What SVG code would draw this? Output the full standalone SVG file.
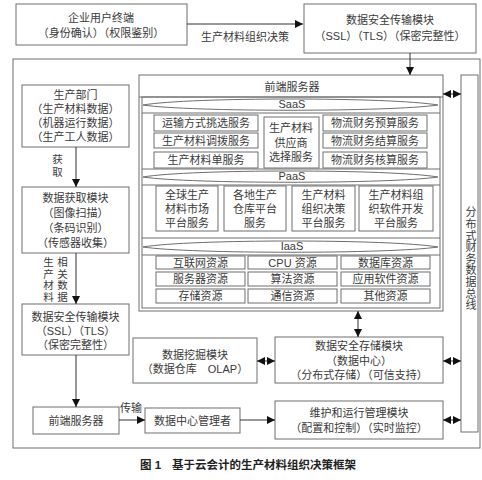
<svg xmlns="http://www.w3.org/2000/svg" width="482" height="480" viewBox="0 0 482 480">
<defs>
<style>
.b{fill:#fff;stroke:#6e6e6e;stroke-width:1}
.n{fill:none;stroke:#6e6e6e;stroke-width:1}
.t{font-family:"Liberation Sans","Noto Sans CJK SC",sans-serif;font-size:11px;fill:#3a3a3a;text-anchor:middle;dominant-baseline:central}
.v{font-family:"Liberation Sans","Noto Sans CJK SC",sans-serif;font-size:10.5px;fill:#3a3a3a;text-anchor:middle;writing-mode:vertical-rl}
.c{stroke:#333;stroke-width:1;fill:none}
.cap{font-family:"Liberation Sans","Noto Sans CJK SC",sans-serif;font-size:11.5px;font-weight:bold;fill:#222;dominant-baseline:central}
</style>
<marker id="ah" viewBox="0 0 8 8" refX="8" refY="4" markerWidth="8" markerHeight="8" markerUnits="userSpaceOnUse" orient="auto">
<path d="M0,0 L8,4 L0,8 Z" fill="#111"/>
</marker>
<marker id="as" viewBox="0 0 8 8" refX="0" refY="4" markerWidth="8" markerHeight="8" markerUnits="userSpaceOnUse" orient="auto">
<path d="M8,0 L0,4 L8,8 Z" fill="#111"/>
</marker>
</defs>
<rect width="482" height="480" fill="#fff"/>

<g id="outer"><rect class="n" x="13" y="59" width="467" height="389"/></g>

<g id="user-terminal">
<rect class="b" x="16" y="4" width="171" height="41"/>
<text class="t"><tspan x="101" y="18">企业用户终端</tspan><tspan x="101" y="33">（身份确认）（权限鉴别）</tspan></text>
</g>

<g id="secure-trans-top">
<rect class="b" x="304" y="4" width="172" height="49"/>
<text class="t"><tspan x="390" y="20">数据安全传输模块</tspan><tspan x="390" y="36">（SSL）（TLS）（保密完整性）</tspan></text>
</g>

<g id="frontend-cloud">
<rect class="b" x="139" y="75" width="304" height="236"/>
<text class="t" x="292" y="87">前端服务器</text>
<line class="n" x1="139" y1="97" x2="443" y2="97"/>
<rect class="n" x="142" y="97" width="298" height="211"/>
</g>

<g id="saas">
<line class="n" x1="142" y1="113" x2="440" y2="113"/>
<path class="n" d="M143,105 C190,97 390,97 438,105 C390,112 190,112 143,105 Z"/>
<text class="t" x="292" y="104">SaaS</text>
<g id="saas-1"><rect class="b" x="154" y="115" width="104" height="16"/><text class="t" x="206" y="123">运输方式挑选服务</text></g>
<g id="saas-2"><rect class="b" x="154" y="133" width="104" height="15"/><text class="t" x="206" y="140.5">生产材料调拨服务</text></g>
<g id="saas-3"><rect class="b" x="154" y="152" width="104" height="16"/><text class="t" x="206" y="160">生产材料单服务</text></g>
<g id="saas-4"><rect class="b" x="264" y="117" width="55" height="51"/>
<text class="t"><tspan x="291" y="128">生产材料</tspan><tspan x="291" y="143">供应商</tspan><tspan x="291" y="157">选择服务</tspan></text></g>
<g id="saas-5"><rect class="b" x="323" y="115" width="104" height="16"/><text class="t" x="375" y="123">物流财务预算服务</text></g>
<g id="saas-6"><rect class="b" x="323" y="133" width="104" height="15"/><text class="t" x="375" y="140.5">物流财务结算服务</text></g>
<g id="saas-7"><rect class="b" x="323" y="152" width="104" height="16"/><text class="t" x="375" y="160">物流财务核算服务</text></g>
</g>

<g id="paas">
<line class="n" x1="142" y1="169" x2="440" y2="169"/>
<line class="n" x1="142" y1="185" x2="440" y2="185"/>
<path class="n" d="M143,177 C190,169 390,169 438,177 C390,184 190,184 143,177 Z"/>
<text class="t" x="292" y="176">PaaS</text>
<g id="paas-1"><rect class="b" x="156" y="186" width="62" height="45"/>
<text class="t"><tspan x="187" y="195">全球生产</tspan><tspan x="187" y="209">材料市场</tspan><tspan x="187" y="223">平台服务</tspan></text></g>
<g id="paas-2"><rect class="b" x="224" y="186" width="62" height="45"/>
<text class="t"><tspan x="255" y="195">各地生产</tspan><tspan x="255" y="209">仓库平台</tspan><tspan x="255" y="223">服务</tspan></text></g>
<g id="paas-3"><rect class="b" x="292" y="186" width="63" height="45"/>
<text class="t"><tspan x="323.5" y="195">生产材料</tspan><tspan x="323.5" y="209">组织决策</tspan><tspan x="323.5" y="223">平台服务</tspan></text></g>
<g id="paas-4"><rect class="b" x="359" y="186" width="74" height="45"/>
<text class="t"><tspan x="396" y="195">生产材料组</tspan><tspan x="396" y="209">织软件开发</tspan><tspan x="396" y="223">平台服务</tspan></text></g>
</g>

<g id="iaas">
<line class="n" x1="142" y1="238" x2="440" y2="238"/>
<line class="n" x1="142" y1="255" x2="440" y2="255"/>
<path class="n" d="M143,247 C190,239 390,239 438,247 C390,254 190,254 143,247 Z"/>
<text class="t" x="292" y="246">IaaS</text>
<g id="iaas-1"><rect class="b" x="156" y="256" width="89" height="13"/><text class="t" x="200.5" y="262.5">互联网资源</text></g>
<g id="iaas-2"><rect class="b" x="248" y="256" width="89" height="13"/><text class="t" x="292.5" y="262.5">CPU 资源</text></g>
<g id="iaas-3"><rect class="b" x="341" y="256" width="89" height="13"/><text class="t" x="385.5" y="262.5">数据库资源</text></g>
<g id="iaas-4"><rect class="b" x="156" y="272" width="89" height="14"/><text class="t" x="200.5" y="279">服务器资源</text></g>
<g id="iaas-5"><rect class="b" x="248" y="272" width="89" height="14"/><text class="t" x="292.5" y="279">算法资源</text></g>
<g id="iaas-6"><rect class="b" x="341" y="272" width="89" height="14"/><text class="t" x="385.5" y="279">应用软件资源</text></g>
<g id="iaas-7"><rect class="b" x="156" y="289" width="89" height="14"/><text class="t" x="200.5" y="296">存储资源</text></g>
<g id="iaas-8"><rect class="b" x="248" y="289" width="89" height="14"/><text class="t" x="292.5" y="296">通信资源</text></g>
<g id="iaas-9"><rect class="b" x="341" y="289" width="89" height="14"/><text class="t" x="385.5" y="296">其他资源</text></g>
</g>

<g id="bus">
<rect class="b" x="461" y="75" width="17" height="357"/>
<text class="v" x="470" y="259" style="font-size:11px;letter-spacing:0.6px">分布式财务数据总线</text>
</g>

<g id="production-dept">
<rect class="b" x="22" y="85" width="107" height="62"/>
<text class="t"><tspan x="75.5" y="95">生产部门</tspan><tspan x="75.5" y="109">（生产材料数据）</tspan><tspan x="75.5" y="123">（机器运行数据）</tspan><tspan x="75.5" y="137">（生产工人数据）</tspan></text>
</g>

<g id="data-acquisition">
<rect class="b" x="22" y="187" width="107" height="66"/>
<text class="t"><tspan x="75.5" y="198">数据获取模块</tspan><tspan x="75.5" y="213">（图像扫描）</tspan><tspan x="75.5" y="228">（条码识别）</tspan><tspan x="75.5" y="243">（传感器收集）</tspan></text>
</g>

<g id="secure-trans-left">
<rect class="b" x="22" y="304" width="107" height="51"/>
<text class="t"><tspan x="75.5" y="317">数据安全传输模块</tspan><tspan x="75.5" y="331">（SSL）（TLS）</tspan><tspan x="75.5" y="345">（保密完整性）</tspan></text>
</g>

<g id="frontend-bottom">
<rect class="b" x="33" y="407" width="86" height="27"/>
<text class="t" x="76" y="420.5">前端服务器</text>
</g>

<g id="dc-manager">
<rect class="b" x="145" y="408" width="95" height="25"/>
<text class="t" x="192.5" y="420.5">数据中心管理者</text>
</g>

<g id="ops-module">
<rect class="b" x="275" y="401" width="168" height="38"/>
<text class="t"><tspan x="359" y="413">维护和运行管理模块</tspan><tspan x="359" y="428">（配置和控制）（实时监控）</tspan></text>
</g>

<g id="data-mining">
<rect class="b" x="133" y="338" width="124" height="45"/>
<text class="t"><tspan x="195" y="355">数据挖掘模块</tspan><tspan x="195" y="369">（数据仓库　OLAP）</tspan></text>
</g>

<g id="secure-storage">
<rect class="b" x="275" y="337" width="168" height="46"/>
<text class="t"><tspan x="359" y="346">数据安全存储模块</tspan><tspan x="359" y="361">（数据中心）</tspan><tspan x="359" y="375">（分布式存储）（可信支持）</tspan></text>
</g>

<g id="connectors">
<line class="c" x1="187" y1="24" x2="303" y2="24" marker-end="url(#ah)"/>
<text class="t" x="245" y="37">生产材料组织决策</text>
<line class="c" x1="410" y1="53" x2="410" y2="75" marker-end="url(#ah)"/>
<line class="c" x1="443" y1="94" x2="461" y2="94" marker-start="url(#as)" marker-end="url(#ah)"/>
<line class="c" x1="443" y1="361" x2="461" y2="361" marker-start="url(#as)" marker-end="url(#ah)"/>
<line class="c" x1="443" y1="420" x2="461" y2="420" marker-start="url(#as)" marker-end="url(#ah)"/>
<line class="c" x1="358" y1="311" x2="358" y2="337" marker-start="url(#as)" marker-end="url(#ah)"/>
<line class="c" x1="257" y1="361" x2="275" y2="361" marker-start="url(#as)" marker-end="url(#ah)"/>
<line class="c" x1="76" y1="147" x2="76" y2="187" marker-end="url(#ah)"/>
<text class="v" x="57" y="167" style="letter-spacing:3px">获取</text>
<line class="c" x1="76" y1="253" x2="76" y2="304" marker-end="url(#ah)"/>
<text class="v" x="48" y="280" style="letter-spacing:1.2px">生产材料</text>
<text class="v" x="62" y="280" style="letter-spacing:1.2px">相关数据</text>
<line class="c" x1="76" y1="355" x2="76" y2="407" marker-end="url(#ah)"/>
<line class="c" x1="119" y1="420" x2="145" y2="420" marker-end="url(#ah)"/>
<text class="t" x="131" y="408">传输</text>
<line class="c" x1="240" y1="420" x2="275" y2="420" marker-end="url(#ah)"/>
</g>

<text class="cap" x="140" y="465">图 1</text>
<text class="cap" x="172" y="465">基于云会计的生产材料组织决策框架</text>
</svg>
